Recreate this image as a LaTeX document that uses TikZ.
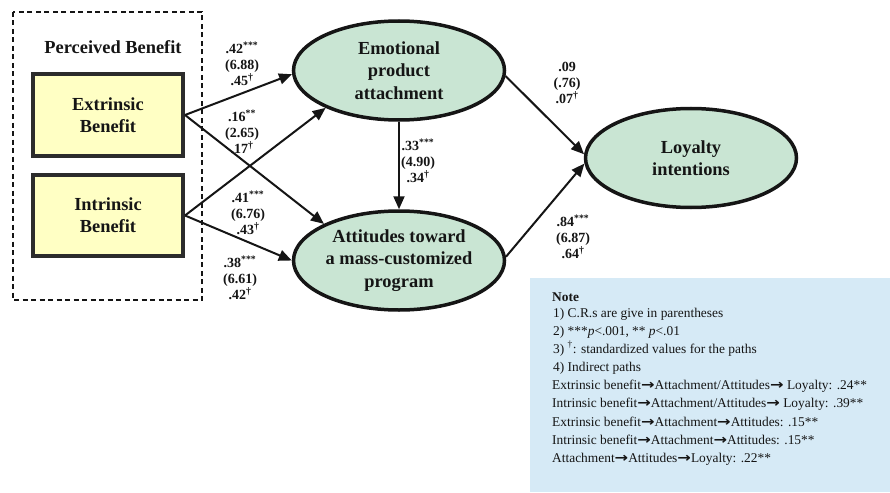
\documentclass[tikz,border=0pt]{standalone}
\usepackage{fontspec}
\setmainfont{Liberation Serif}
\newfontfamily\arrowfont{DejaVu Sans}
\usetikzlibrary{arrows.meta,shapes.geometric}
\definecolor{ellfill}{HTML}{C9E5D3}
\definecolor{boxfill}{HTML}{FFFFC4}
\definecolor{notefill}{HTML}{D6EAF6}
\definecolor{ink}{HTML}{151515}
\newcommand{\narr}{{\arrowfont\bfseries\fontsize{13.5}{13.5}\selectfont\scalebox{1.2}[1]{→}}}
\begin{document}
\begin{tikzpicture}[x=1pt,y=-1pt,
  latent/.style={ellipse,draw=ink,line width=3.5pt,fill=ellfill,minimum width=211pt,minimum height=99pt,inner sep=0pt,align=center,font=\bfseries\fontsize{18.4}{22.5}\selectfont,text=ink},
  observed/.style={rectangle,draw=ink!90,line width=4pt,fill=boxfill,minimum width=150pt,minimum height=81pt,inner sep=0pt,align=center,font=\bfseries\fontsize{18.4}{22}\selectfont,text=ink},
  pathlabel/.style={align=center,font=\bfseries\fontsize{14}{16}\selectfont,text=ink,inner sep=0pt},
  conn/.style={line width=2pt,draw=ink,-{Triangle[length=13pt,width=11pt]}},
  groupbox/.style={draw=ink,line width=2.3pt,dash pattern=on 5pt off 3.5pt},
  noteline/.style={anchor=base west,inner sep=0pt,font=\fontsize{13.4}{15}\selectfont,text=ink}
]
\useasboundingbox (0,0) rectangle (890,492);

% perceived benefit group
\draw[groupbox] (13,12) rectangle (202,300);
\node[font=\bfseries\fontsize{18.4}{22}\selectfont,text=ink] (pbtitle) at (113,47) {Perceived Benefit};
\node[observed] (ext) at (108,115) {Extrinsic\\Benefit};
\node[observed] (int) at (108,215.5) {Intrinsic\\Benefit};

% latent constructs
\node[latent] (emo) at (399,70.5) {Emotional\\product\\attachment};
\node[latent] (att) at (399,260.5) {Attitudes toward\\a mass-customized\\program};
\node[latent] (loy) at (691,158) {Loyalty\\intentions};

% connectors
\draw[conn] (ext.east) -- (emo.182);
\draw[conn] (ext.east) -- (att.154);
\draw[conn] (int.east) -- (emo.207);
\draw[conn] (int.east) -- (att.west);
\draw[conn] (emo.south) -- (att.north);
\draw[conn] (emo.357) -- (loy.178);
\draw[conn] (att.2) -- (loy.183);

% path labels
\node[pathlabel] (l1) at (242,64) {.42\textsuperscript{***}\\(6.88)\\.45\textsuperscript{†}};
\node[pathlabel] (l2) at (242,132) {.16\textsuperscript{**}\\(2.65)\\.17\textsuperscript{†}};
\node[pathlabel] (l3) at (248,213) {.41\textsuperscript{***}\\(6.76)\\.43\textsuperscript{†}};
\node[pathlabel] (l4) at (240,278) {.38\textsuperscript{***}\\(6.61)\\.42\textsuperscript{†}};
\node[pathlabel] (l5) at (418,161) {.33\textsuperscript{***}\\(4.90)\\.34\textsuperscript{†}};
\node[pathlabel] (l6) at (567,83) {.09\\(.76)\\.07\textsuperscript{†}};
\node[pathlabel] (l7) at (573,237) {.84\textsuperscript{***}\\(6.87)\\.64\textsuperscript{†}};

% note
\fill[notefill] (530,278) rectangle (890,492);
\node[noteline,font=\bfseries\fontsize{13.4}{15}\selectfont] (n0) at (552,301) {Note};
\node[noteline] (n1) at (553,317) {1) C.R.s are give in parentheses};
\node[noteline] (n2) at (553,335) {2) ***\textit{p}<.001, ** \textit{p}<.01};
\node[noteline] (n3) at (553,353) {3) \textsuperscript{†}: standardized values for the paths};
\node[noteline] (n4) at (553,371) {4) Indirect paths};
\node[noteline] (n5) at (552,389) {Extrinsic benefit\narr Attachment/Attitudes\narr{} Loyalty: .24**};
\node[noteline] (n6) at (552,407) {Intrinsic benefit\narr Attachment/Attitudes\narr{} Loyalty: .39**};
\node[noteline] (n7) at (552,426) {Extrinsic benefit\narr Attachment\narr Attitudes: .15**};
\node[noteline] (n8) at (552,444) {Intrinsic benefit\narr Attachment\narr Attitudes: .15**};
\node[noteline] (n9) at (552,462) {Attachment\narr Attitudes\narr Loyalty: .22**};
\end{tikzpicture}
\end{document}
